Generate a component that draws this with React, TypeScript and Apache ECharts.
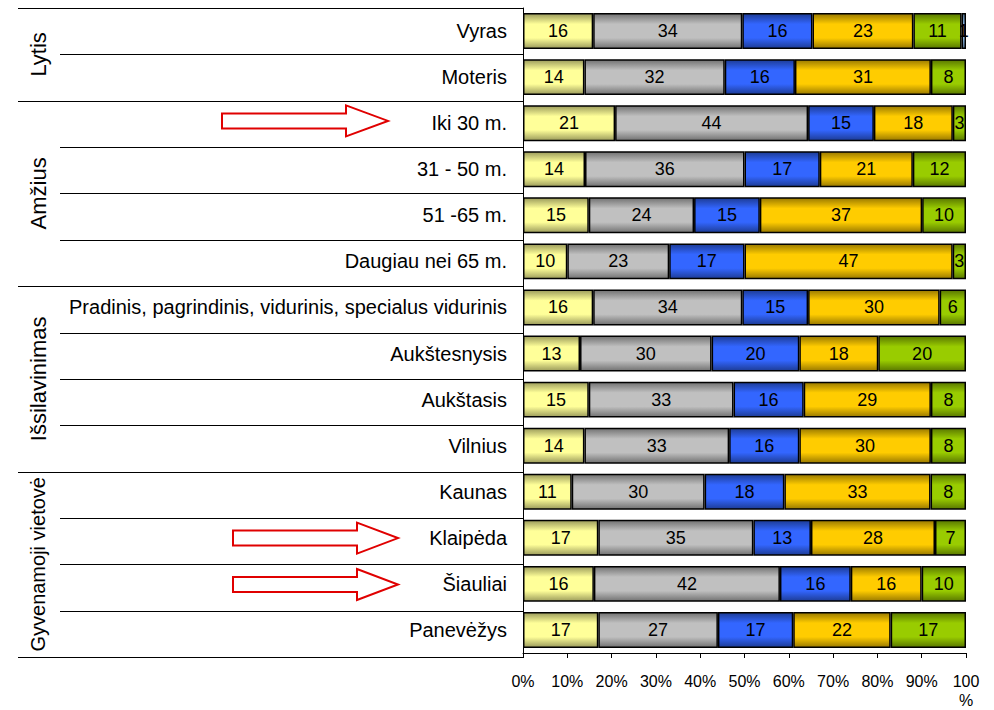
import React, { useEffect, useRef } from "react";
import * as echarts from "echarts";

const categories = [
  "Vyras",
  "Moteris",
  "Iki 30 m.",
  "31 - 50 m.",
  "51 -65 m.",
  "Daugiau nei 65 m.",
  "Pradinis, pagrindinis, vidurinis, specialus vidurinis",
  "Aukštesnysis",
  "Aukštasis",
  "Vilnius",
  "Kaunas",
  "Klaipėda",
  "Šiauliai",
  "Panevėžys",
];

const s1Vals = [16, 14, 21, 14, 15, 10, 16, 13, 15, 14, 11, 17, 16, 17];
const s2Vals = [34, 32, 44, 36, 24, 23, 34, 30, 33, 33, 30, 35, 42, 27];
const s3Vals = [16, 16, 15, 17, 15, 17, 15, 20, 16, 16, 18, 13, 16, 17];
const s4Vals = [23, 31, 18, 21, 37, 47, 30, 18, 29, 30, 33, 28, 16, 22];
const s5Vals = [11, 8, 3, 12, 10, 3, 6, 20, 8, 8, 8, 7, 10, 17];
const s6Vals = [1, 0, 0, 0, 0, 0, 0, 0, 0, 0, 0, 0, 0, 0];

const xTicks = [0, 10, 20, 30, 40, 50, 60, 70, 80, 90, 100];

const groups = [
  { name: "Lytis", from: 0, to: 2, size: 22 },
  { name: "Amžius", from: 2, to: 6, size: 22 },
  { name: "Išsilavinimas", from: 6, to: 10, size: 22 },
  { name: "Gyvenamoji vietovė", from: 10, to: 14, size: 20 },
];

const arrowRows = [2, 11, 12];

const seriesColors = [
  ["#9c9c5c", "#ffff99"],
  ["#727272", "#c0c0c0"],
  ["#1d3c96", "#3366ff"],
  ["#9a7a00", "#ffcc00"],
  ["#5a7800", "#99cc00"],
  ["#5a7896", "#99ccff"],
];

const FONT = "'Liberation Sans', Arial, sans-serif";

export default function App() {
  const ref = useRef<HTMLDivElement>(null);

  useEffect(() => {
    if (!ref.current) return;
    const chart = echarts.init(ref.current, undefined, { renderer: "svg" });

    const all = [s1Vals, s2Vals, s3Vals, s4Vals, s5Vals, s6Vals];
    const rowSums = categories.map((_, i) =>
      all.reduce((a, arr) => a + arr[i], 0)
    );

    const gridLeft = 523;
    const gridTop = 8;
    const gridBottomY = 657;
    const gridRight = 966;
    const band = (gridBottomY - gridTop) / categories.length;

    const grad = (c: string[]) =>
      new echarts.graphic.LinearGradient(0, 0, 0, 1, [
        { offset: 0, color: c[0] },
        { offset: 0.3, color: c[1] },
        { offset: 0.7, color: c[1] },
        { offset: 1, color: c[0] },
      ]);

    const series = all.map((vals, si) => ({
      type: "bar",
      name: "s" + (si + 1),
      stack: "total",
      barWidth: "78%",
      data: vals.map((v, i) =>
        v === 0 ? "-" : { value: (v / rowSums[i]) * 100, raw: v }
      ),
      itemStyle: {
        color: grad(seriesColors[si]),
        borderColor: "#000",
        borderWidth: 1.5,
      },
      label: {
        show: true,
        position: "inside",
        color: "#000",
        fontSize: 18,
        fontFamily: FONT,
        formatter: (p: any) => (p.data && p.data.raw ? String(p.data.raw) : ""),
      },
    }));

    const graphics: any[] = [];
    for (let b = 0; b <= categories.length; b++) {
      const isGroup = groups.some((g) => g.from === b) || b === categories.length;
      const y = Math.round(gridTop + b * band) + 0.5;
      graphics.push({
        type: "line",
        shape: { x1: isGroup ? 18 : 60, y1: y, x2: gridLeft, y2: y },
        style: { stroke: "#000", lineWidth: 1 },
      });
    }
    groups.forEach((g) => {
      const cy = gridTop + ((g.from + g.to) / 2) * band;
      graphics.push({
        type: "text",
        x: 38,
        y: cy,
        rotation: Math.PI / 2,
        style: {
          text: g.name,
          fontSize: g.size,
          fontFamily: FONT,
          fill: "#000",
          align: "center",
          verticalAlign: "middle",
        },
      });
    });
    arrowRows.forEach((r) => {
      const cy = gridTop + (r + 0.5) * band - 3;
      const x0 = r === 2 ? 222 : 233;
      const xb = r === 2 ? 346 : 357;
      const xt = r === 2 ? 388 : 398;
      graphics.push({
        type: "polygon",
        shape: {
          points: [
            [x0, cy - 7.5],
            [xb, cy - 7.5],
            [xb, cy - 15.5],
            [xt, cy],
            [xb, cy + 15.5],
            [xb, cy + 7.5],
            [x0, cy + 7.5],
          ],
        },
        style: { fill: "#fff", stroke: "#e00000", lineWidth: 2 },
      });
    });

    chart.setOption({
      animation: false,
      backgroundColor: "#fff",
      grid: {
        left: gridLeft,
        top: gridTop,
        right: 994 - gridRight,
        bottom: 710 - gridBottomY,
        containLabel: false,
      },
      xAxis: {
        type: "value",
        min: 0,
        max: 100,
        interval: 10,
        splitLine: { show: false },
        axisLine: { show: true, lineStyle: { color: "#000", width: 1 } },
        axisTick: { show: true, length: 5, lineStyle: { color: "#000" } },
        axisLabel: {
          color: "#000",
          fontSize: 16,
          fontFamily: FONT,
          margin: 19,
          lineHeight: 19,
          formatter: (v: number) =>
            xTicks.includes(v) ? (v === 100 ? "100\n%" : v + "%") : "",
        },
      },
      yAxis: {
        type: "category",
        inverse: true,
        data: categories,
        axisLine: { show: true, lineStyle: { color: "#000", width: 1 } },
        axisTick: { show: false },
        axisLabel: {
          color: "#000",
          fontSize: 20,
          fontFamily: FONT,
          margin: 16,
        },
      },
      series,
      graphic: graphics,
    });

    return () => chart.dispose();
  }, []);

  return (
    <div
      ref={ref}
      style={{ position: "fixed", left: 0, top: 0, width: 994, height: 710 }}
    />
  );
}
